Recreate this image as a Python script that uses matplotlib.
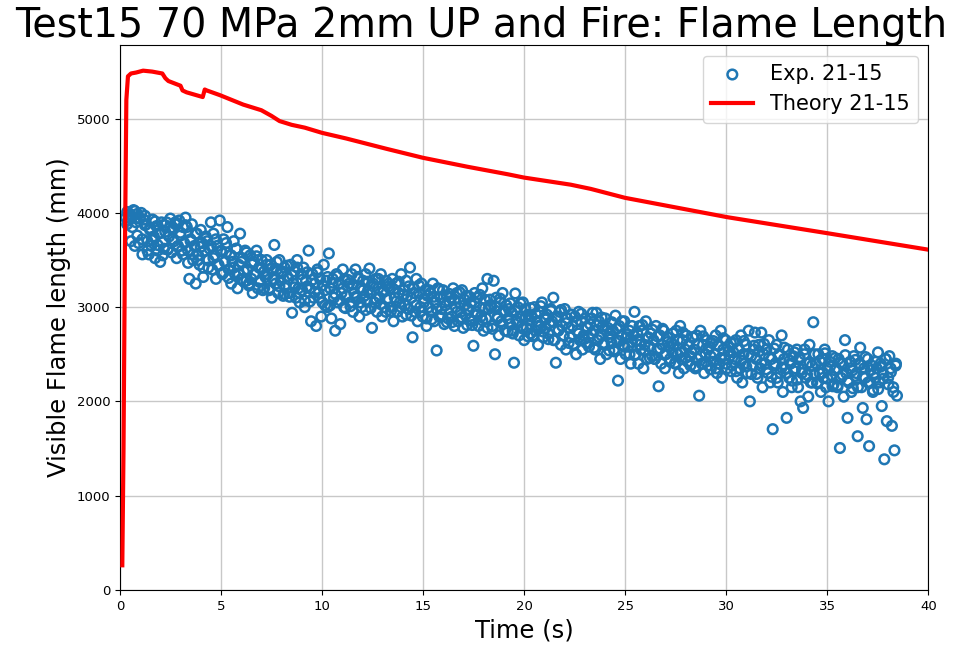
import numpy as np
import matplotlib.pyplot as plt

# Theory curve (time in s, flame length in mm)
t_theory = [0.12, 0.18, 0.25, 0.32, 0.40, 0.55, 0.80, 1.15, 1.60, 2.10, 2.25, 2.40,
            3.00, 3.10, 3.30, 4.10, 4.20, 4.30, 4.95, 6.10, 7.00, 7.50, 7.90, 8.50,
            9.15, 10.0, 11.2, 13.2, 15.0, 17.2, 19.2, 20.0, 22.3, 23.3, 25.0, 28.2,
            30.05, 35.0, 40.0]
y_theory = [260, 1500, 3600, 5200, 5450, 5480, 5490, 5510, 5500, 5480, 5430, 5400,
            5350, 5300, 5280, 5230, 5310, 5300, 5250, 5150, 5090, 5030, 4975, 4935,
            4905, 4850, 4790, 4680, 4585, 4490, 4410, 4375, 4300, 4255, 4160, 4030,
            3955, 3785, 3610]

# Experimental points, one list per second of video (uniform frame rate)
exp_bins = [
    [3950, 4010, 3920, 3980, 3700, 3960, 4030, 3650, 3900, 3990, 3680, 3940, 4000, 3560, 3930, 3870],
    [3880, 3700, 3560, 3820, 3650, 3930, 3750, 3520, 3860, 3600, 3780, 3480, 3900, 3690, 3620, 3800],
    [3900, 3620, 3750, 3940, 3580, 3830, 3700, 3880, 3520, 3650, 3920, 3760, 3600, 3850, 3680, 3950],
    [3850, 3600, 3300, 3720, 3880, 3500, 3650, 3250, 3780, 3550, 3450, 3820, 3680, 3320, 3600, 3750],
    [3700, 3500, 3620, 3900, 3400, 3780, 3550, 3300, 3650, 3450, 3920, 3600, 3350, 3720, 3480, 3580],
    [3850, 3400, 3550, 3250, 3480, 3700, 3350, 3620, 3200, 3450, 3780, 3300, 3520, 3380, 3600, 3280],
    [3400, 3250, 3550, 3300, 3150, 3480, 3350, 3600, 3200, 3420, 3280, 3500, 3180, 3380, 3320, 3450],
    [3350, 3200, 3450, 3100, 3300, 3660, 3250, 3400, 3150, 3500, 3280, 3380, 3120, 3420, 3230, 3330],
    [3300, 3150, 3450, 2940, 3250, 3380, 3100, 3500, 3200, 3050, 3350, 3180, 3420, 3000, 3280, 3220],
    [3600, 3200, 2850, 3350, 3100, 3250, 2800, 3400, 3150, 3300, 2900, 3050, 3450, 3180, 3280, 3000],
    [3570, 3200, 2880, 3300, 3100, 2750, 3350, 3050, 3250, 2820, 3150, 3400, 3000, 3280, 3120, 3220],
    [3250, 3050, 3350, 2950, 3150, 3400, 3100, 3300, 2900, 3200, 3000, 3280, 3120, 3350, 3060, 3180],
    [3410, 3150, 2780, 3250, 3050, 3300, 2950, 3200, 3100, 3350, 2900, 3180, 3000, 3280, 3080, 3220],
    [3200, 3000, 3300, 2850, 3100, 3250, 2950, 3150, 3050, 3350, 2900, 3180, 3020, 3280, 3120, 2980],
    [3420, 3100, 2680, 3200, 2950, 3300, 2850, 3150, 3000, 3250, 2900, 3050, 3180, 2800, 3120, 3000],
    [3150, 2950, 3250, 2850, 3050, 2540, 3200, 2900, 3100, 2980, 3180, 2820, 3020, 3120, 2880, 3060],
    [3100, 2900, 3200, 2800, 3000, 3150, 2850, 3050, 2950, 3180, 2780, 3080, 2920, 3120, 2980, 2870],
    [3050, 2850, 2590, 3150, 2950, 3100, 2800, 3000, 2900, 3200, 2750, 3080, 2880, 3300, 2980, 3020],
    [3000, 2800, 3280, 2500, 3100, 2900, 2700, 3050, 2850, 3150, 2950, 2750, 3020, 2880, 2980, 2820],
    [2950, 2750, 2410, 3145, 2850, 3000, 2700, 2900, 2800, 3050, 2650, 2980, 2780, 2920, 2860, 2720],
    [2900, 2700, 3000, 2750, 2850, 2600, 2950, 2800, 3050, 2680, 2880, 2780, 2920, 2720, 2830, 2980],
    [2850, 3100, 2650, 2410, 2900, 2750, 2950, 2600, 2800, 2700, 2980, 2550, 2880, 2780, 2680, 2920],
    [2800, 2600, 2900, 2500, 2750, 2950, 2650, 2850, 2550, 2700, 2880, 2620, 2780, 2680, 2820, 2720],
    [2940, 2750, 2550, 2940, 2650, 2850, 2450, 2700, 2800, 2600, 2880, 2500, 2780, 2680, 2720, 2620],
    [2750, 2550, 2910, 2650, 2220, 2800, 2450, 2700, 2600, 2850, 2500, 2680, 2580, 2750, 2400, 2630],
    [2700, 2950, 2500, 2650, 2400, 2800, 2550, 2750, 2350, 2600, 2850, 2450, 2680, 2580, 2720, 2480],
    [2650, 2450, 2800, 2550, 2160, 2700, 2400, 2600, 2750, 2350, 2500, 2680, 2580, 2450, 2620, 2520],
    [2600, 2400, 2750, 2500, 2300, 2800, 2450, 2650, 2350, 2550, 2700, 2420, 2600, 2480, 2520, 2680],
    [2550, 2350, 2700, 2450, 2060, 2750, 2400, 2600, 2300, 2500, 2650, 2380, 2580, 2480, 2620, 2420],
    [2500, 2700, 2300, 2600, 2400, 2750, 2250, 2550, 2450, 2650, 2350, 2580, 2480, 2620, 2380, 2520],
    [2450, 2650, 2250, 2550, 2350, 2700, 2200, 2500, 2400, 2600, 2300, 2750, 2000, 2480, 2380, 2550],
    [2730, 2450, 2250, 2600, 2350, 2730, 2150, 2500, 2400, 2550, 2300, 2650, 2200, 2450, 1705, 2380],
    [2400, 2600, 2200, 2500, 2300, 2700, 2100, 2450, 2350, 1825, 2550, 2250, 2400, 2150, 2480, 2320],
    [2350, 2550, 2150, 2450, 2000, 2300, 1930, 2500, 2250, 2400, 2050, 2600, 2200, 2380, 2840, 2280],
    [2400, 2200, 2500, 2300, 2100, 2450, 2250, 2550, 2150, 2350, 2000, 2420, 2280, 2480, 2180, 2330],
    [2350, 2150, 2450, 1505, 2250, 2400, 2050, 2650, 2300, 1825, 2200, 2420, 2100, 2330, 2480, 2270],
    [2300, 1630, 2400, 2570, 2150, 1930, 2350, 2250, 1810, 2450, 1525, 2200, 2380, 2100, 2300, 2250],
    [2350, 2520, 2200, 2400, 1950, 2300, 1385, 2450, 1790, 2250, 2480, 2350, 1740, 2150, 1480, 2380, 2060],
]

# Frames in between the ones above (same video, offset by half a step)
exp_bins_mid = [
    [3880, 3990, 3850, 4020, 3760, 3940, 3720, 3970],
    [3600, 3840, 3710, 3910, 3660, 3790, 3550, 3870],
    [3610, 3840, 3720, 3900, 3640, 3790, 3560, 3870],
    [3470, 3700, 3560, 3780, 3500, 3640, 3420, 3730],
    [3420, 3650, 3520, 3720, 3440, 3590, 3370, 3680],
    [3310, 3550, 3420, 3620, 3350, 3480, 3270, 3580],
    [3230, 3470, 3350, 3540, 3270, 3410, 3200, 3500],
    [3180, 3410, 3290, 3480, 3220, 3360, 3140, 3440],
    [3110, 3340, 3210, 3420, 3150, 3290, 3070, 3370],
    [3060, 3290, 3160, 3370, 3100, 3230, 3020, 3320],
    [3020, 3260, 3140, 3330, 3070, 3200, 2990, 3290],
    [3010, 3240, 3110, 3320, 3050, 3180, 2970, 3270],
    [2990, 3220, 3090, 3300, 3030, 3160, 2950, 3250],
    [2960, 3190, 3060, 3270, 3000, 3130, 2920, 3220],
    [2910, 3150, 3020, 3230, 2960, 3090, 2880, 3180],
    [2870, 3110, 2980, 3190, 2920, 3050, 2840, 3140],
    [2840, 3080, 2950, 3160, 2890, 3020, 2810, 3110],
    [2810, 3050, 2920, 3130, 2860, 2990, 2780, 3080],
    [2770, 3010, 2880, 3090, 2820, 2950, 2740, 3040],
    [2720, 2960, 2830, 3040, 2770, 2900, 2690, 2990],
    [2690, 2930, 2800, 3010, 2740, 2870, 2660, 2960],
    [2650, 2890, 2760, 2970, 2700, 2830, 2620, 2920],
    [2610, 2850, 2720, 2930, 2660, 2790, 2580, 2880],
    [2570, 2810, 2680, 2890, 2620, 2750, 2540, 2840],
    [2530, 2770, 2640, 2850, 2580, 2710, 2500, 2800],
    [2490, 2730, 2600, 2810, 2540, 2670, 2460, 2760],
    [2450, 2690, 2560, 2770, 2500, 2630, 2420, 2720],
    [2410, 2650, 2520, 2730, 2460, 2590, 2380, 2680],
    [2370, 2610, 2480, 2690, 2420, 2550, 2340, 2640],
    [2350, 2590, 2460, 2670, 2400, 2530, 2320, 2620],
    [2320, 2560, 2430, 2640, 2370, 2500, 2290, 2590],
    [2290, 2530, 2400, 2610, 2340, 2470, 2260, 2560],
    [2250, 2490, 2360, 2570, 2300, 2430, 2220, 2520],
    [2230, 2470, 2340, 2550, 2280, 2410, 2200, 2500],
    [2190, 2430, 2300, 2510, 2240, 2370, 2160, 2460],
    [2170, 2410, 2280, 2490, 2220, 2350, 2140, 2440],
    [2150, 2390, 2260, 2470, 2200, 2330, 2120, 2420],
    [2130, 2370, 2240, 2450, 2180, 2310, 2100, 2400],
]

y_a = np.concatenate([np.array(b, dtype=float) for b in exp_bins])
y_b = np.concatenate([np.array(b, dtype=float) for b in exp_bins_mid])
t_a = np.linspace(0.3, 38.45, len(y_a))
t_b = np.linspace(0.36, 38.4, len(y_b))
t_exp = np.concatenate([t_a, t_b])
y_exp = np.concatenate([y_a, y_b])

fig = plt.figure(figsize=(9.59, 6.46), dpi=100)
ax = fig.add_axes([0.125, 0.087, 0.843, 0.843])

ax.scatter(t_exp, y_exp, s=48, facecolors='none', edgecolors='#1f77b4',
           linewidths=1.8, label='Exp. 21-15', zorder=2)
ax.plot(t_theory, y_theory, color='red', linewidth=3, label='Theory 21-15', zorder=3)

ax.set_xlim(0, 40)
ax.set_ylim(0, 5780)
ax.set_yticks([0, 1000, 2000, 3000, 4000, 5000])
ax.grid(True, color='#c8c8c8', linewidth=1)
ax.set_axisbelow(True)
ax.tick_params(labelsize=9.5)

fig.text(0.502, 1 - 37 / 646, 'Test15 70 MPa 2mm UP and Fire: Flame Length',
         fontsize=28.5, ha='center', va='baseline')
ax.set_xlabel('Time (s)', fontsize=17.5)
ax.set_ylabel('Visible Flame length (mm)', fontsize=17.5)
ax.legend(loc='upper right', fontsize=15, scatterpoints=1)

fig.savefig('out.png', dpi=100)
